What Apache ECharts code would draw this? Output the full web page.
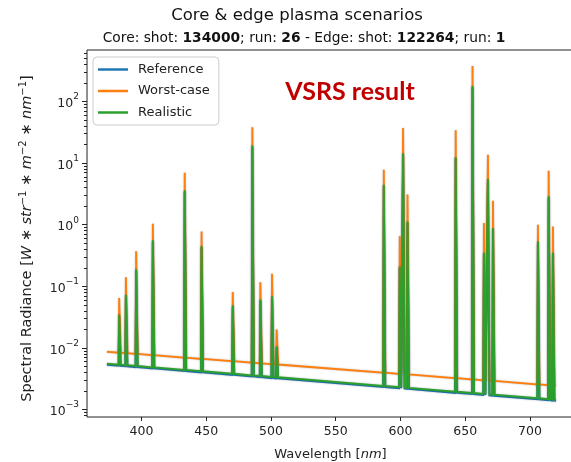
<!DOCTYPE html>
<html>
<head>
<meta charset="utf-8">
<script src="https://cdn.jsdelivr.net/npm/echarts@6/dist/echarts.min.js"></script>
<style>
  html, body { margin: 0; padding: 0; background: #fff; }
  #chart { width: 571px; height: 462px; }
</style>
</head>
<body>
<div id="chart"></div>
<script>
// Emission line positions [nm]
const lineWavelengths = [383.2, 388.4, 396.3, 409.2, 433.8, 446.8, 470.9, 486.0, 492.2, 501.2, 504.8,
  587.5, 599.8, 602.4, 605.8, 643.0, 656.0, 664.8, 667.9, 671.8, 706.5, 714.8, 718.1];

// Peak spectral radiance of each line, per scenario
const referencePeaks = [0.033, 0.069, 0.18, 0.53, 3.4, 0.43, 0.046, 18.4, 0.058, 0.066, 0.0101,
  4.2, 0.20, 13.8, 1.07, 11.9, 169, 0.33, 5.2, 0.84, 0.51, 2.75, 0.33];
const worstCasePeaks = [0.065, 0.14, 0.37, 1.04, 7.0, 0.78, 0.081, 38, 0.117, 0.16, 0.020,
  7.8, 0.65, 37, 3.1, 34, 376, 1.07, 13.6, 2.45, 1.0, 7.5, 0.94];
const realisticPeaks = [0.035, 0.073, 0.19, 0.56, 3.6, 0.45, 0.049, 19.3, 0.061, 0.069, 0.0106,
  4.45, 0.21, 14.5, 1.13, 12.5, 178, 0.35, 5.5, 0.88, 0.54, 2.9, 0.35];

// Continuum level under each line, per scenario
const referenceContinuum = [5.15e-3, 5.05e-3, 4.90e-3, 4.66e-3, 4.23e-3, 4.02e-3, 3.67e-3, 3.46e-3, 3.37e-3, 3.25e-3, 3.22e-3,
  2.33e-3, 2.22e-3, 2.20e-3, 2.17e-3, 1.87e-3, 1.79e-3, 1.73e-3, 1.70e-3, 1.68e-3, 1.47e-3, 1.42e-3, 1.40e-3];
const worstCaseContinuum = [8.41e-3, 8.25e-3, 8.03e-3, 7.65e-3, 6.99e-3, 6.67e-3, 6.10e-3, 5.77e-3, 5.64e-3, 5.46e-3, 5.39e-3,
  3.97e-3, 3.80e-3, 3.76e-3, 3.72e-3, 3.24e-3, 3.09e-3, 2.99e-3, 2.96e-3, 2.92e-3, 2.57e-3, 2.49e-3, 2.46e-3];
const realisticContinuum = [5.36e-3, 5.26e-3, 5.10e-3, 4.85e-3, 4.41e-3, 4.19e-3, 3.82e-3, 3.60e-3, 3.51e-3, 3.39e-3, 3.35e-3,
  2.43e-3, 2.31e-3, 2.29e-3, 2.26e-3, 1.95e-3, 1.86e-3, 1.80e-3, 1.77e-3, 1.75e-3, 1.53e-3, 1.48e-3, 1.46e-3];

// Spectrum end points: wavelength and continuum level at each end
const spectrumRange = [373.4, 720.1];
const referenceEnds = [5.35e-3, 1.39e-3];
const worstCaseEnds = [8.71e-3, 2.44e-3];
const realisticEnds = [5.57e-3, 1.45e-3];

const seriesNames = ['Reference', 'Worst-case', 'Realistic'];
const seriesColors = ['#1f77b4', '#ff7f0e', '#2ca02c'];

const xTicks = [400, 450, 500, 550, 600, 650, 700];
const yMajorTicks = [1e-3, 1e-2, 1e-1, 1e0, 1e1, 1e2];
const yMinorTicks = [];
for (let e = -4; e <= 2; e++) {
  for (let m = 2; m <= 9; m++) {
    const v = m * Math.pow(10, e);
    if (v > 7.6e-4 && v < 684) yMinorTicks.push(v);
  }
}

// Build a spectrum trace: continuum with narrow line profiles
function buildSpectrum(peaks, continuum, ends) {
  const pts = [[spectrumRange[0], ends[0]]];
  const half = 0.8, top = 0.35;
  lineWavelengths.forEach((w, i) => {
    pts.push([w - half, continuum[i]]);
    pts.push([w - top, peaks[i]]);
    pts.push([w + top, peaks[i]]);
    pts.push([w + half, continuum[i]]);
  });
  pts.push([spectrumRange[1], ends[1]]);
  return pts;
}

const spectra = [
  buildSpectrum(referencePeaks, referenceContinuum, referenceEnds),
  buildSpectrum(worstCasePeaks, worstCaseContinuum, worstCaseEnds),
  buildSpectrum(realisticPeaks, realisticContinuum, realisticEnds)
];

const FONT = 'DejaVu Sans';
const TXT = '#222';

function powLabel(v) {
  const e = Math.round(Math.log10(v));
  return '{b|10}{s|' + (e < 0 ? '\u2212' + (-e) : e) + '}';
}

const chart = echarts.init(document.getElementById('chart'), null, { renderer: 'canvas' });

chart.setOption({
  animation: false,
  backgroundColor: '#fff',
  grid: {
    left: 87, right: -3, top: 50, bottom: 45, outerBoundsMode: 'none', containLabel: false,
    show: true, borderColor: '#222', borderWidth: 1, backgroundColor: 'transparent'
  },
  graphic: [
    {
      type: 'text', x: 297, y: 16,
      style: { text: 'Core & edge plasma scenarios', font: '16.5px "DejaVu Sans"', fill: '#111', align: 'center', verticalAlign: 'middle' }
    },
    {
      type: 'text', x: 304, y: 38,
      style: {
        text: '{n|Core: shot: }{k|134000}{n|; run: }{k|26}{n| - Edge: shot: }{k|122264}{n|; run: }{k|1}',
        align: 'center', verticalAlign: 'middle',
        rich: {
          n: { fontFamily: FONT, fontSize: 13.8, fill: '#111' },
          k: { fontFamily: FONT, fontSize: 13.8, fontWeight: 'bold', fill: '#111' }
        }
      }
    },
    {
      type: 'text', x: 350, y: 92,
      style: { text: 'VSRS result', font: 'bold 25px Lato', fill: '#c00000', align: 'center', verticalAlign: 'middle' }
    }
  ],
  legend: {
    orient: 'vertical', left: 93, top: 57,
    data: seriesNames,
    icon: 'rect', itemWidth: 30, itemHeight: 2.5, itemGap: 6.5,
    padding: [5, 9, 5, 5],
    backgroundColor: 'rgba(255,255,255,0.85)', borderColor: '#ccc', borderWidth: 1, borderRadius: 4,
    textStyle: { fontFamily: FONT, fontSize: 13, color: TXT, padding: [0, 0, 0, 5], lineHeight: 15 }
  },
  xAxis: {
    type: 'value', min: 358, max: 734,
    name: 'Wavelength [{i|nm}]', nameLocation: 'middle', nameGap: 31,
    nameTextStyle: { fontFamily: FONT, fontSize: 13, color: TXT, rich: { i: { fontFamily: FONT, fontSize: 13, fontStyle: 'italic', color: TXT } } },
    axisLine: { show: false },
    splitLine: { show: false },
    axisTick: { show: true, customValues: xTicks, length: 4, inside: false, lineStyle: { color: '#222' } },
    axisLabel: { customValues: xTicks, fontFamily: FONT, fontSize: 12.5, color: TXT, margin: 8 }
  },
  yAxis: [
    {
      type: 'log', min: 7.6e-4, max: 684, logBase: 10,
      name: 'Spectral Radiance [{i|W}{n| \u2217 }{i|str}{s|\u22121}{n| \u2217 }{i|m}{s|\u22122}{n| \u2217 }{i|nm}{s|\u22121}]',
      nameLocation: 'middle', nameGap: 50, nameRotate: 90,
      nameTextStyle: {
        fontFamily: FONT, fontSize: 14.5, color: TXT, padding: [0, 10, 0, 0],
        rich: {
          i: { fontFamily: FONT, fontSize: 14.5, fontStyle: 'italic', color: TXT },
          n: { fontFamily: FONT, fontSize: 14.5, color: TXT },
          s: { fontFamily: FONT, fontSize: 10, color: TXT, verticalAlign: 'top', lineHeight: 19 }
        }
      },
      axisLine: { show: false },
      splitLine: { show: false },
      axisTick: { show: true, customValues: yMajorTicks, length: 5, lineStyle: { color: '#222' } },
      axisLabel: {
        customValues: yMajorTicks, formatter: powLabel, margin: 8,
        rich: {
          b: { fontFamily: FONT, fontSize: 12.5, color: TXT, verticalAlign: 'bottom', lineHeight: 18 },
          s: { fontFamily: FONT, fontSize: 9, color: TXT, verticalAlign: 'top', lineHeight: 18 }
        }
      }
    },
    {
      type: 'log', min: 7.6e-4, max: 684, logBase: 10, position: 'left',
      axisLine: { show: false }, splitLine: { show: false },
      axisTick: { show: true, customValues: yMinorTicks, length: 3, lineStyle: { color: '#222' } },
      axisLabel: { show: false }
    }
  ],
  series: spectra.map((data, k) => ({
    name: seriesNames[k],
    type: 'line',
    data: data,
    showSymbol: false,
    symbol: 'none',
    color: seriesColors[k],
    lineStyle: { width: 1.9, color: seriesColors[k], shadowColor: 'rgba(0,0,0,0.25)', shadowBlur: 2, join: 'miter' },
    clip: true,
    z: 2 + k
  }))
});
</script>
</body>
</html>
